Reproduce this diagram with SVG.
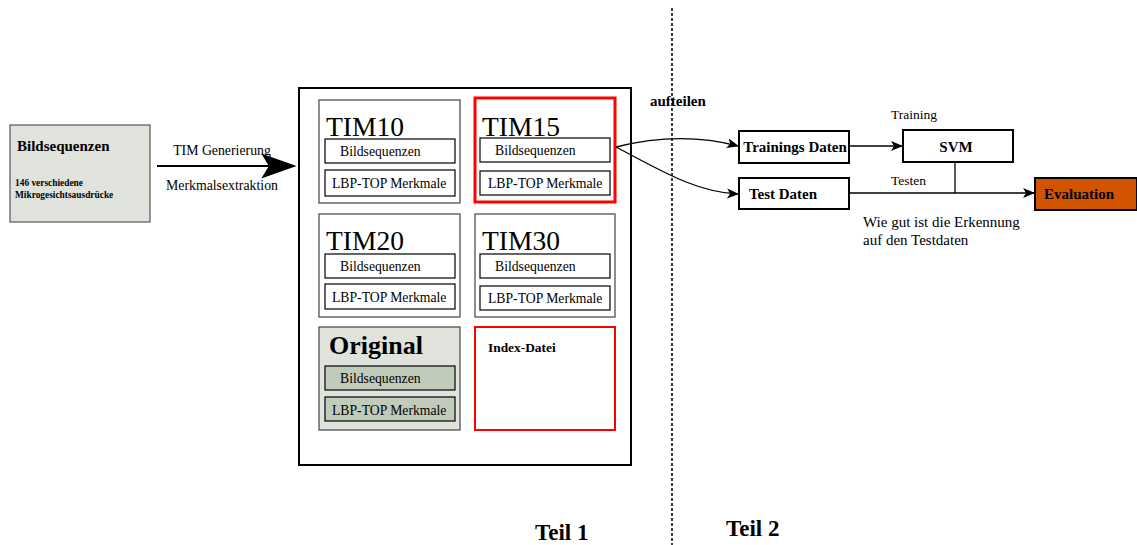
<svg xmlns="http://www.w3.org/2000/svg" width="1137" height="545" viewBox="0 0 1137 545">
<style>
text{font-family:"Liberation Serif","Times New Roman",serif;fill:#000}
.b{font-weight:bold}
.tim{fill:#fff;stroke:#444;stroke-width:1.2}
.in{fill:#fff;stroke:#000;stroke-width:1.2}
.ing{fill:#c0cbb9;stroke:#000;stroke-width:1.2}
.lbl{font-size:13.7px}
.big{font-size:27.5px}
.blk{fill:#fff;stroke:#000;stroke-width:2}
.con{fill:none;stroke:#000;stroke-width:1.3}
.bl{font-size:15px;font-weight:bold}
</style>
<defs>
<marker id="ah" viewBox="0 0 12 10" refX="11" refY="5" markerWidth="12" markerHeight="10" markerUnits="userSpaceOnUse" orient="auto">
<path d="M0,0 L12,5 L0,10 L3,5 z" fill="#000"/>
</marker>
<marker id="ahb" viewBox="0 0 14 10" refX="13" refY="5" markerWidth="16" markerHeight="12" markerUnits="strokeWidth" orient="auto">
<path d="M0,0 L14,5 L0,10 L3,5 z" fill="#000"/>
</marker>
</defs>
<rect width="1137" height="545" fill="#fff"/>

<g id="input">
<rect x="10" y="125" width="140" height="97" fill="#dfe3dc" stroke="#555" stroke-width="1.2"/>
<text x="17" y="151" class="b" font-size="15">Bildsequenzen</text>
<text x="15" y="186" class="b" font-size="9.4">146 verschiedene</text>
<text x="15" y="198" class="b" font-size="9.4">Mikrogesichtsausdrücke</text>
</g>

<g id="container">
<rect x="299" y="88" width="332" height="377" fill="#fff" stroke="#000" stroke-width="2"/>
</g>

<g id="tim10">
<rect class="tim" x="319" y="100" width="141" height="103"/>
<text x="326" y="136" class="big">TIM10</text>
<rect class="in" x="325" y="139" width="130" height="24"/>
<text x="340" y="156" class="lbl">Bildsequenzen</text>
<rect class="in" x="325" y="170" width="130" height="26"/>
<text x="332" y="188" class="lbl">LBP-TOP Merkmale</text>
</g>

<g id="tim15">
<rect x="475" y="98" width="140" height="104" fill="#fff" stroke="#f00" stroke-width="3"/>
<text x="482" y="136" class="big">TIM15</text>
<rect class="in" x="480" y="138" width="130" height="24"/>
<text x="495" y="155" class="lbl">Bildsequenzen</text>
<rect class="in" x="480" y="171" width="130" height="24"/>
<text x="488" y="188" class="lbl">LBP-TOP Merkmale</text>
</g>

<g id="tim20">
<rect class="tim" x="319" y="214" width="141" height="103"/>
<text x="326" y="250" class="big">TIM20</text>
<rect class="in" x="325" y="254" width="130" height="24"/>
<text x="340" y="271" class="lbl">Bildsequenzen</text>
<rect class="in" x="325" y="284" width="130" height="25"/>
<text x="332" y="302" class="lbl">LBP-TOP Merkmale</text>
</g>

<g id="tim30">
<rect class="tim" x="475" y="214" width="140" height="103"/>
<text x="482" y="250" class="big">TIM30</text>
<rect class="in" x="480" y="254" width="130" height="24"/>
<text x="495" y="271" class="lbl">Bildsequenzen</text>
<rect class="in" x="480" y="286" width="130" height="24"/>
<text x="488" y="303" class="lbl">LBP-TOP Merkmale</text>
</g>

<g id="original">
<rect x="319" y="327" width="141" height="103" fill="#dfe3dc" stroke="#444" stroke-width="1.2"/>
<text x="329" y="354" class="b" font-size="26">Original</text>
<rect class="ing" x="325" y="366" width="130" height="24"/>
<text x="340" y="383" class="lbl">Bildsequenzen</text>
<rect class="ing" x="325" y="397" width="130" height="24"/>
<text x="332" y="415" class="lbl">LBP-TOP Merkmale</text>
</g>

<g id="index">
<rect x="475" y="327" width="140" height="103" fill="#fff" stroke="#f00" stroke-width="2"/>
<text x="488" y="352" class="b" font-size="13.4">Index-Datei</text>
</g>

<g id="divider">
<line x1="672" y1="8" x2="672" y2="545" stroke="#000" stroke-width="1.5" stroke-dasharray="3,2"/>
<text x="535" y="540" class="b" font-size="23">Teil 1</text>
<text x="726" y="536" class="b" font-size="23">Teil 2</text>
<text x="650" y="106" class="bl">aufteilen</text>
</g>

<g id="trainings">
<rect class="blk" x="739" y="131" width="110" height="32"/>
<text x="795" y="152" class="bl" text-anchor="middle">Trainings Daten</text>
</g>
<g id="test">
<rect class="blk" x="739" y="178" width="110" height="31"/>
<text x="783" y="199" class="bl" text-anchor="middle">Test Daten</text>
</g>
<g id="svm">
<rect class="blk" x="903" y="130" width="110" height="32"/>
<text x="956" y="152" class="bl" text-anchor="middle">SVM</text>
</g>
<g id="evaluation">
<rect x="1035" y="178" width="102" height="32" fill="#d35400" stroke="#000" stroke-width="2"/>
<text x="1044" y="199" class="bl">Evaluation</text>
</g>

<g id="connectors">
<line x1="157" y1="166" x2="294" y2="166" stroke="#000" stroke-width="2.2" marker-end="url(#ahb)"/>
<text x="222" y="155" font-size="13.8" text-anchor="middle">TIM Generierung</text>
<text x="222" y="190" font-size="13.8" text-anchor="middle">Merkmalsextraktion</text>
<path class="con" d="M616,147 C660,136 700,136 738,146" marker-end="url(#ah)"/>
<path class="con" d="M616,147 C660,170 695,192 738,194" marker-end="url(#ah)"/>
<line class="con" x1="849" y1="146" x2="902" y2="146" marker-end="url(#ah)"/>
<text x="891" y="119" font-size="13.5">Training</text>
<line class="con" x1="849" y1="193" x2="1034" y2="193" marker-end="url(#ah)"/>
<line class="con" x1="955" y1="162" x2="955" y2="193"/>
<text x="891" y="185" font-size="13.5">Testen</text>
<text x="863" y="227" font-size="15">Wie gut ist die Erkennung</text>
<text x="863" y="245" font-size="15">auf den Testdaten</text>
</g>
</svg>
